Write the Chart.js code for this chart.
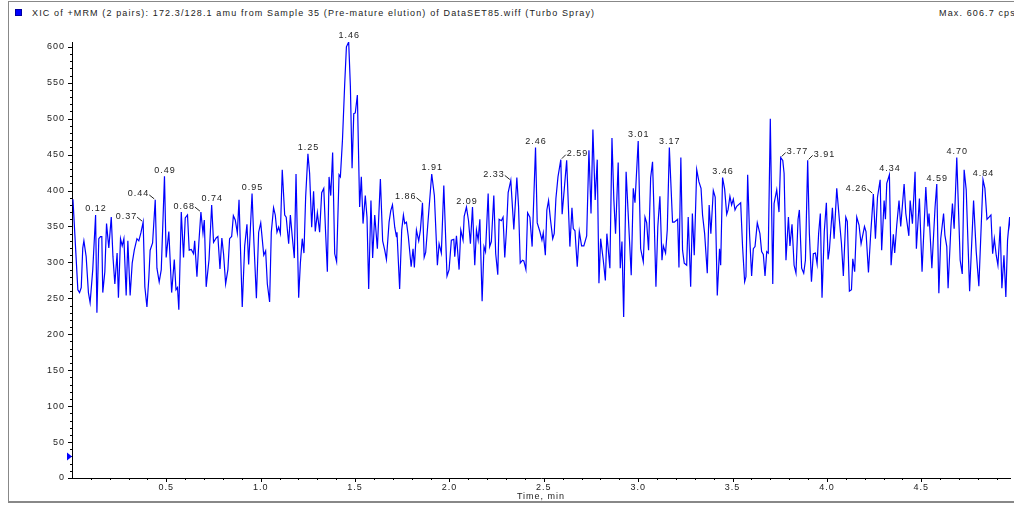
<!DOCTYPE html>
<html>
<head>
<meta charset="utf-8">
<script src="https://cdn.jsdelivr.net/npm/chart.js@4.4.0/dist/chart.umd.min.js"></script>
<style>
body{margin:0;background:#fff;width:1014px;height:505px;overflow:hidden;position:relative;font-family:"Liberation Sans",Arial,sans-serif;}
.frame{position:absolute;left:8px;top:1px;width:1020px;height:499px;border-top:1px solid #888;border-left:1px solid #888;border-bottom:2px solid #888;}
.mark{position:absolute;left:15px;top:9px;width:5px;height:5px;background:#0000ff;border:1px solid #0000a0;}
.title{position:absolute;top:8px;font-size:9px;line-height:10px;letter-spacing:1.13px;color:#222;white-space:nowrap;}
#box{position:absolute;left:0;top:0;width:1014px;height:505px;}
</style>
</head>
<body>
<div class="frame"></div>
<div class="mark"></div>
<div class="title" style="left:32px">XIC of +MRM (2 pairs): 172.3/128.1 amu from Sample 35 (Pre-mature elution) of DataSET85.wiff (Turbo Spray)</div>
<div class="title" style="left:939px">Max. 606.7 cps</div>
<div id="box"><canvas id="xic"></canvas></div>
<script>
// ======================================
// DATA
// ======================================

let times = [
0.005,0.031,0.040,0.049,0.057,0.063,0.075,0.087,0.096,0.110,0.125,0.132,0.142,0.151,0.158,0.163,0.174,0.183,0.195,0.208,
0.217,0.227,0.239,0.246,0.257,0.266,0.275,0.287,0.296,0.308,0.319,0.330,0.344,0.354,0.365,0.377,0.386,0.397,0.407,0.414,
0.427,0.441,0.450,0.462,0.473,0.490,0.499,0.513,0.528,0.542,0.551,0.559,0.566,0.579,0.591,0.600,0.612,0.621,0.632,0.644,
0.650,0.662,0.672,0.683,0.694,0.701,0.711,0.726,0.740,0.750,0.764,0.773,0.784,0.794,0.803,0.814,0.826,0.835,0.846,0.855,
0.865,0.876,0.885,0.902,0.915,0.927,0.936,0.954,0.964,0.977,0.989,1.000,1.016,1.026,1.035,1.047,1.056,1.068,1.077,1.086,
1.095,1.104,1.114,1.127,1.135,1.148,1.157,1.167,1.178,1.187,1.201,1.210,1.220,1.229,1.238,1.250,1.259,1.270,1.280,1.289,
1.300,1.312,1.323,1.334,1.344,1.353,1.362,1.371,1.381,1.392,1.402,1.415,1.422,1.433,1.445,1.454,1.466,1.475,1.484,1.493,
1.501,1.512,1.524,1.533,1.542,1.554,1.563,1.572,1.584,1.593,1.604,1.618,1.634,1.646,1.657,1.666,1.680,1.689,1.698,1.710,
1.719,1.722,1.736,1.747,1.756,1.763,1.772,1.782,1.797,1.807,1.814,1.825,1.837,1.846,1.857,1.866,1.874,1.887,1.906,1.920,
1.936,1.945,1.957,1.970,1.987,1.998,2.010,2.023,2.028,2.037,2.051,2.060,2.072,2.078,2.090,2.101,2.111,2.122,2.134,2.143,
2.152,2.161,2.173,2.183,2.191,2.205,2.213,2.222,2.235,2.245,2.256,2.263,2.275,2.284,2.293,2.302,2.311,2.325,2.341,2.357,
2.366,2.375,2.387,2.394,2.405,2.414,2.426,2.438,2.456,2.465,2.479,2.490,2.497,2.508,2.516,2.525,2.535,2.547,2.555,2.564,
2.575,2.590,2.597,2.607,2.621,2.638,2.649,2.656,2.665,2.677,2.688,2.700,2.712,2.727,2.739,2.750,2.760,2.772,2.783,2.792,
2.801,2.815,2.826,2.834,2.850,2.861,2.871,2.880,2.894,2.905,2.914,2.923,2.936,2.963,2.974,2.983,3.000,3.013,3.027,3.036,
3.045,3.055,3.066,3.076,3.083,3.094,3.104,3.115,3.126,3.133,3.145,3.154,3.165,3.182,3.191,3.209,3.216,3.226,3.235,3.244,
3.257,3.265,3.278,3.287,3.297,3.310,3.322,3.333,3.341,3.352,3.366,3.376,3.385,3.398,3.408,3.419,3.431,3.437,3.447,3.458,
3.469,3.476,3.486,3.495,3.504,3.513,3.522,3.543,3.553,3.564,3.571,3.580,3.590,3.601,3.610,3.619,3.631,3.645,3.654,3.663,
3.672,3.681,3.689,3.700,3.713,3.720,3.734,3.746,3.755,3.766,3.773,3.783,3.796,3.804,3.815,3.826,3.836,3.847,3.854,3.866,
3.877,3.886,3.898,3.907,3.918,3.928,3.939,3.948,3.956,3.965,3.974,3.986,3.997,4.006,4.013,4.029,4.038,4.052,4.066,4.077,
4.087,4.100,4.108,4.119,4.130,4.137,4.147,4.158,4.170,4.181,4.199,4.207,4.220,4.232,4.246,4.257,4.268,4.282,4.290,4.303,
4.310,4.317,4.331,4.340,4.352,4.359,4.370,4.382,4.391,4.409,4.418,4.434,4.441,4.453,4.467,4.474,4.490,4.504,4.524,4.535,
4.541,4.556,4.573,4.582,4.593,4.603,4.618,4.625,4.635,4.642,4.657,4.665,4.674,4.688,4.706,4.717,4.727,4.738,4.756,4.777,
4.791,4.805,4.827,4.837,4.848,4.859,4.869,4.878,4.887,4.897,4.906,4.918,4.927,4.938,4.948,4.957,4.968,4.980
];

let counts = [
388,262,258,265,320,330,308,258,244,290,366,230,333,336,336,258,287,354,320,363,
308,270,313,251,333,323,333,254,330,254,299,317,333,330,341,356,266,238,278,317,
327,387,292,273,290,420,307,343,258,304,262,265,234,370,307,362,366,317,318,312,
330,280,327,370,341,359,266,304,380,328,334,336,291,334,312,270,290,333,336,365,
359,341,387,238,323,353,297,396,327,250,342,355,310,316,270,245,342,376,366,342,
349,340,429,366,363,326,366,336,306,423,251,299,333,313,391,451,424,349,399,343,
369,342,397,403,340,287,419,393,453,312,301,422,419,470,549,600,606.7,545,431,507,
508,533,377,419,354,393,363,263,386,306,366,319,416,330,317,304,356,372,380,349,
336,342,263,345,366,354,356,336,294,319,293,345,330,345,383,307,314,359,423,393,
296,326,313,407,281,290,331,332,308,337,290,345,331,364,377,358,326,377,296,345,
331,360,246,322,315,396,322,329,393,312,283,360,358,363,307,345,397,414,346,418,
378,299,303,302,290,369,363,322,460,355,343,331,341,310,373,386,360,333,340,389,
419,443,367,398,442,322,376,347,344,294,343,323,323,337,456,368,485,387,443,271,
333,303,275,340,292,473,387,340,439,292,329,224,426,282,403,383,469,319,301,363,
355,317,418,440,377,266,350,392,303,323,313,345,460,356,356,360,293,446,317,299,
296,363,266,368,310,429,412,403,366,340,285,380,340,400,391,254,319,296,418,402,
367,373,392,380,388,373,378,383,322,273,280,422,340,281,319,322,355,340,315,311,
281,315,313,500,270,382,401,370,446,442,424,303,363,323,353,296,285,360,373,292,
285,303,442,340,273,312,313,298,340,368,251,343,383,304,317,376,333,403,359,326,
281,363,357,260,262,305,287,363,352,326,350,343,286,340,395,333,391,415,317,386,
360,410,422,296,339,313,352,386,350,409,368,337,386,354,426,319,389,287,405,350,
368,292,377,409,257,333,368,338,322,264,350,382,347,446,303,284,429,401,260,386,
315,267,415,403,360,363,366,312,333,310,296,350,264,310,252,331,363,317
];

// peak labels and where the label sits (c = above, l = left, r = right)
let peakLabels = ["0.12","0.37","0.44","0.49","0.68","0.74","0.95","1.25","1.46","1.86","1.91","2.09","2.33",
                  "2.46","2.59","3.01","3.17","3.46","3.77","3.91","4.26","4.34","4.59","4.70","4.84"];
let peakSides = ["c","l","l","c","l","c","c","c","c","l","c","c","l",
                 "c","r","c","c","c","r","r","l","c","c","c","c"];

let xMax = 4.97;
let yMax = 606.7;
let baselineMark = 30;

let points = times.map(function(t, i){
    return {x: t, y: counts[i]};
});

// ======================================
// PLUGIN: TICKS, PEAK LABELS, MARKER
// ======================================

let xicPlugin = {

    id: "xicExtras",

    beforeDraw: function(chart){
        chart.ctx.letterSpacing = "1px";
    },

    afterDraw: function(chart){

        let ctx = chart.ctx;
        let xs = chart.scales.x;
        let ys = chart.scales.y;
        let area = chart.chartArea;

        ctx.save();
        ctx.strokeStyle = "#000";
        ctx.lineWidth = 1;

        // tick marks, long on labelled ones
        xs.ticks.forEach(function(t){
            if(t.value <= 0) return;
            let px = Math.round(xs.getPixelForValue(t.value)) + 0.5;
            let len = t.label !== "" ? 4 : 2;
            ctx.beginPath();
            ctx.moveTo(px, area.bottom);
            ctx.lineTo(px, area.bottom + len);
            ctx.stroke();
        });

        ys.ticks.forEach(function(t){
            let py = Math.round(ys.getPixelForValue(t.value)) + 0.5;
            let len = t.label !== "" ? 4 : 2;
            ctx.beginPath();
            ctx.moveTo(area.left - len, py);
            ctx.lineTo(area.left, py);
            ctx.stroke();
        });

        // blue marker on the y axis
        let my = ys.getPixelForValue(baselineMark);
        ctx.fillStyle = "#0000ff";
        ctx.beginPath();
        ctx.moveTo(area.left - 5, my - 4);
        ctx.lineTo(area.left, my);
        ctx.lineTo(area.left - 5, my + 4);
        ctx.closePath();
        ctx.fill();

        // peak labels
        ctx.font = '9px "Liberation Sans", Arial, sans-serif';
        ctx.letterSpacing = "1px";
        ctx.fillStyle = "#222";
        ctx.strokeStyle = "#222";
        ctx.textBaseline = "middle";

        peakLabels.forEach(function(lab, i){

            let t = parseFloat(lab);
            let best = -1;

            for(let k = 0; k < times.length; k++){
                if(Math.abs(times[k] - t) <= 0.02 && (best < 0 || counts[k] > counts[best])){
                    best = k;
                }
            }

            let px = xs.getPixelForValue(times[best]);
            let py = ys.getPixelForValue(counts[best]);
            let side = peakSides[i];

            if(side == "c"){
                ctx.textAlign = "center";
                ctx.fillText(lab, px + 0.5, py - 6);
            }
            else if(side == "l"){
                ctx.beginPath();
                ctx.moveTo(px - 1, py - 1);
                ctx.lineTo(px - 6, py - 5);
                ctx.stroke();
                ctx.textAlign = "right";
                ctx.fillText(lab, px - 6, py - 6);
            }
            else{
                ctx.beginPath();
                ctx.moveTo(px + 1, py - 1);
                ctx.lineTo(px + 5, py - 5);
                ctx.stroke();
                ctx.textAlign = "left";
                ctx.fillText(lab, px + 6, py - 6);
            }

        });

        ctx.restore();
    }

};

// ======================================
// XIC CHART
// ======================================

new Chart(document.getElementById("xic"),{

    type:"line",

    data:{
        datasets:[{
            data:points,
            borderColor:"#0000ff",
            borderWidth:1.2,
            pointRadius:0,
            tension:0,
            fill:false
        }]
    },

    options:{

        responsive:true,
        maintainAspectRatio:false,
        animation:false,
        events:[],

        layout:{
            padding:{top:42,right:4,left:0,bottom:0}
        },

        plugins:{
            legend:{display:false},
            tooltip:{enabled:false}
        },

        scales:{

            x:{
                type:"linear",
                min:0,
                max:xMax,
                afterFit:function(scale){ scale.height = 27; },
                border:{color:"#000",width:1},
                grid:{display:true,drawOnChartArea:false,drawTicks:true,tickLength:3,color:"rgba(0,0,0,0)"},
                ticks:{
                    stepSize:0.1,
                    autoSkip:false,
                    maxRotation:0,
                    includeBounds:false,
                    padding:1,
                    color:"#222",
                    font:{family:"Liberation Sans",size:9},
                    callback:function(v){
                        let half = v * 2;
                        if(v > 0 && Math.abs(half - Math.round(half)) < 1e-6){
                            return v.toFixed(1);
                        }
                        return "";
                    }
                },
                title:{
                    display:true,
                    text:"Time, min",
                    color:"#222",
                    font:{family:"Liberation Sans",size:9},
                    padding:{top:0,bottom:3}
                }
            },

            y:{
                min:0,
                max:yMax,
                afterFit:function(scale){ scale.width = 72; },
                border:{color:"#000",width:1},
                grid:{display:true,drawOnChartArea:false,drawTicks:true,tickLength:4,color:"rgba(0,0,0,0)"},
                ticks:{
                    stepSize:10,
                    autoSkip:false,
                    includeBounds:false,
                    padding:3,
                    color:"#222",
                    font:{family:"Liberation Sans",size:9},
                    callback:function(v){
                        if(v % 50 == 0){
                            return String(v);
                        }
                        return "";
                    }
                }
            }

        }

    },

    plugins:[xicPlugin]

});
</script>
</body>
</html>
